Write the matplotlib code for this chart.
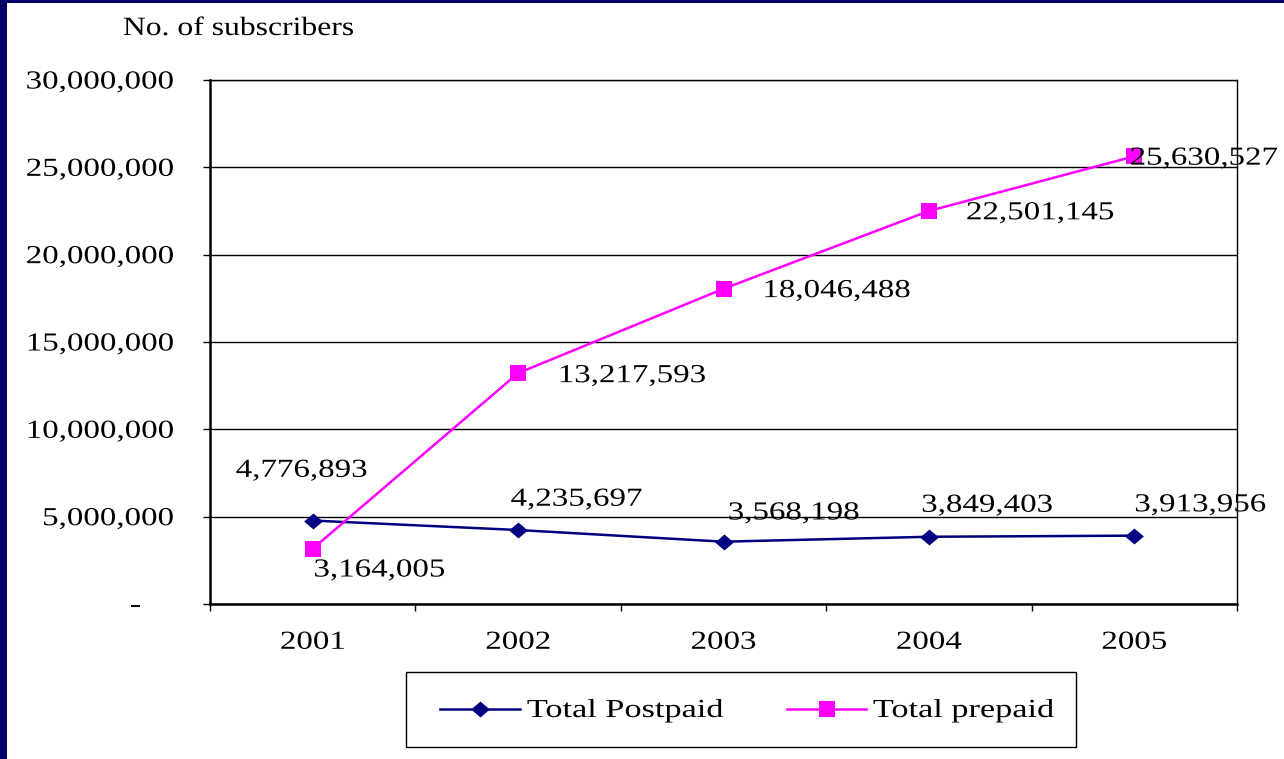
import matplotlib
matplotlib.use("Agg")
import matplotlib.pyplot as plt
from matplotlib.patches import Rectangle
from matplotlib.lines import Line2D
from matplotlib.path import Path
from matplotlib.patheffects import AbstractPathEffect
from matplotlib.transforms import Affine2D
from matplotlib.ticker import FixedLocator, FuncFormatter

years = ["2001", "2002", "2003", "2004", "2005"]
postpaid = [4776893, 4235697, 3568198, 3849403, 3913956]
prepaid = [3164005, 13217593, 18046488, 22501145, 25630527]
series_names = ["Total Postpaid", "Total prepaid"]
y_title = "No. of subscribers"
zero_label = "-"

# value-label offsets in points (dx, dy) from each marker to the label baseline
post_offsets = [(-8, 31.5), (42, 17.5), (50.5, 16), (42, 18), (47.5, 17.5)]
pre_offsets = [(48, -20), (82, -6.5), (81.5, -6), (80, -6), (50, -6)]

NAVY = "#000080"
MAGENTA = "#FF00FF"
FS = 18.7
STRETCH = 1.27

plt.rcParams["font.family"] = ["Liberation Serif", "DejaVu Serif"]


class Stretch(AbstractPathEffect):
    """Widen glyphs horizontally about an anchor (0=left, 0.5=center, 1=right)."""

    def __init__(self, sx, anchor=0.5):
        super().__init__()
        self.sx = sx
        self.anchor = anchor

    def draw_path(self, renderer, gc, tpath, affine, rgbFace=None):
        ext = tpath.get_extents()
        x0 = ext.x0 + self.anchor * ext.width
        aff = Affine2D().translate(-x0, 0).scale(self.sx, 1).translate(x0, 0) + affine
        renderer.draw_path(gc, tpath, aff, rgbFace)


W, H = 1284, 759


def fx(px):
    return px / W


def fy(py):
    return 1 - py / H


fig = plt.figure(figsize=(W / 100, H / 100), dpi=100)
fig.patch.set_facecolor("white")

# dark frame on left and top edges
fig.patches.append(Rectangle((0, 0), fx(7), 1, transform=fig.transFigure,
                             facecolor="#000066", edgecolor="none", zorder=10))
fig.patches.append(Rectangle((0, fy(3)), 1, 3 / H, transform=fig.transFigure,
                             facecolor="#000066", edgecolor="none", zorder=10))

ax = fig.add_axes([fx(210), fy(604), (1237 - 210) / W, (604 - 80) / H])
x = list(range(len(years)))

# wide, slightly flattened diamond
diamond = Path([(-1, 0), (0, 0.85), (1, 0), (0, -0.85), (-1, 0)],
               [Path.MOVETO, Path.LINETO, Path.LINETO, Path.LINETO, Path.CLOSEPOLY])

post_style = dict(color=NAVY, lw=1.8, marker=diamond, ms=13.5,
                  markeredgecolor=NAVY, markerfacecolor=NAVY, markeredgewidth=0)
pre_style = dict(color=MAGENTA, lw=1.8, marker="s", ms=11.5,
                 markeredgecolor=MAGENTA, markerfacecolor=MAGENTA, markeredgewidth=0)

ax.plot(x, postpaid, label=series_names[0], zorder=3, **post_style)
ax.plot(x, prepaid, label=series_names[1], zorder=3, **pre_style)

for xi, v, (dx, dy) in zip(x, postpaid, post_offsets):
    ax.annotate(f"{v:,}", (xi, v), xytext=(dx, dy), textcoords="offset points",
                ha="center", va="baseline", fontsize=FS, color="black", zorder=4,
                annotation_clip=False, path_effects=[Stretch(STRETCH, 0.5)])
for xi, v, (dx, dy) in zip(x, prepaid, pre_offsets):
    ax.annotate(f"{v:,}", (xi, v), xytext=(dx, dy), textcoords="offset points",
                ha="center", va="baseline", fontsize=FS, color="black", zorder=4,
                annotation_clip=False, path_effects=[Stretch(STRETCH, 0.5)])

ax.set_xlim(-0.5, len(years) - 0.5)
ax.set_ylim(0, 30000000)
ax.yaxis.set_major_locator(FixedLocator([i * 5000000 for i in range(7)]))
ax.yaxis.set_major_formatter(FuncFormatter(lambda v, p: "" if v == 0 else f"{int(v):,}"))
ax.grid(axis="y", color="black", lw=1.0)
ax.set_axisbelow(True)

# accounting-style dash for zero sits left of the number column
ax.annotate(zero_label, xy=(0, 0), xycoords=("axes fraction", "data"),
            xytext=(-50, 0), textcoords="offset points", ha="right",
            va="center_baseline", fontsize=FS, annotation_clip=False,
            path_effects=[Stretch(STRETCH, 1.0)])

ax.set_xticks(x)
ax.set_xticklabels(years)
ax.set_xticks([i - 0.5 for i in range(len(years) + 1)], minor=True)
ax.tick_params(axis="x", which="major", length=0, pad=20, labelsize=FS)
ax.tick_params(axis="x", which="minor", length=5, width=1, direction="out")
ax.tick_params(axis="y", which="major", length=5, width=1, direction="out",
               pad=21, labelsize=FS)

for lab in ax.get_xticklabels():
    lab.set_path_effects([Stretch(STRETCH, 0.5)])
for lab in ax.get_yticklabels():
    lab.set_path_effects([Stretch(STRETCH, 1.0)])

for side in ("left", "bottom"):
    ax.spines[side].set_linewidth(1.8)
for side in ("top", "right"):
    ax.spines[side].set_linewidth(1.0)

fig.text(fx(123), fy(35), y_title, fontsize=19, ha="left", va="baseline",
         path_effects=[Stretch(1.2, 0.0)])

# legend box
fig.patches.append(Rectangle((fx(407), fy(748)), (1077 - 407) / W, (748 - 673) / H,
                             transform=fig.transFigure, facecolor="#808080",
                             edgecolor="none", zorder=5))
fig.patches.append(Rectangle((fx(406), fy(747)), (1076 - 406) / W, (747 - 672) / H,
                             transform=fig.transFigure, facecolor="white",
                             edgecolor="black", lw=1.0, zorder=6))
legend_items = [(440, 520, 527, post_style), (787, 866, 873, pre_style)]
for name, (x0, x1, xt, style) in zip(series_names, legend_items):
    fig.add_artist(Line2D([fx(x0), fx(x1)], [fy(709), fy(709)],
                          transform=fig.transFigure, color=style["color"], lw=style["lw"],
                          zorder=7))
    fig.add_artist(Line2D([fx((x0 + x1) / 2)], [fy(709)], transform=fig.transFigure,
                          linestyle="none", marker=style["marker"], ms=style["ms"],
                          markerfacecolor=style["markerfacecolor"],
                          markeredgewidth=0, zorder=8))
    fig.text(fx(xt), fy(717), name, fontsize=FS, ha="left", va="baseline", zorder=8,
             path_effects=[Stretch(1.32, 0.0)])

fig.savefig("out.png", dpi=100, facecolor="white")
